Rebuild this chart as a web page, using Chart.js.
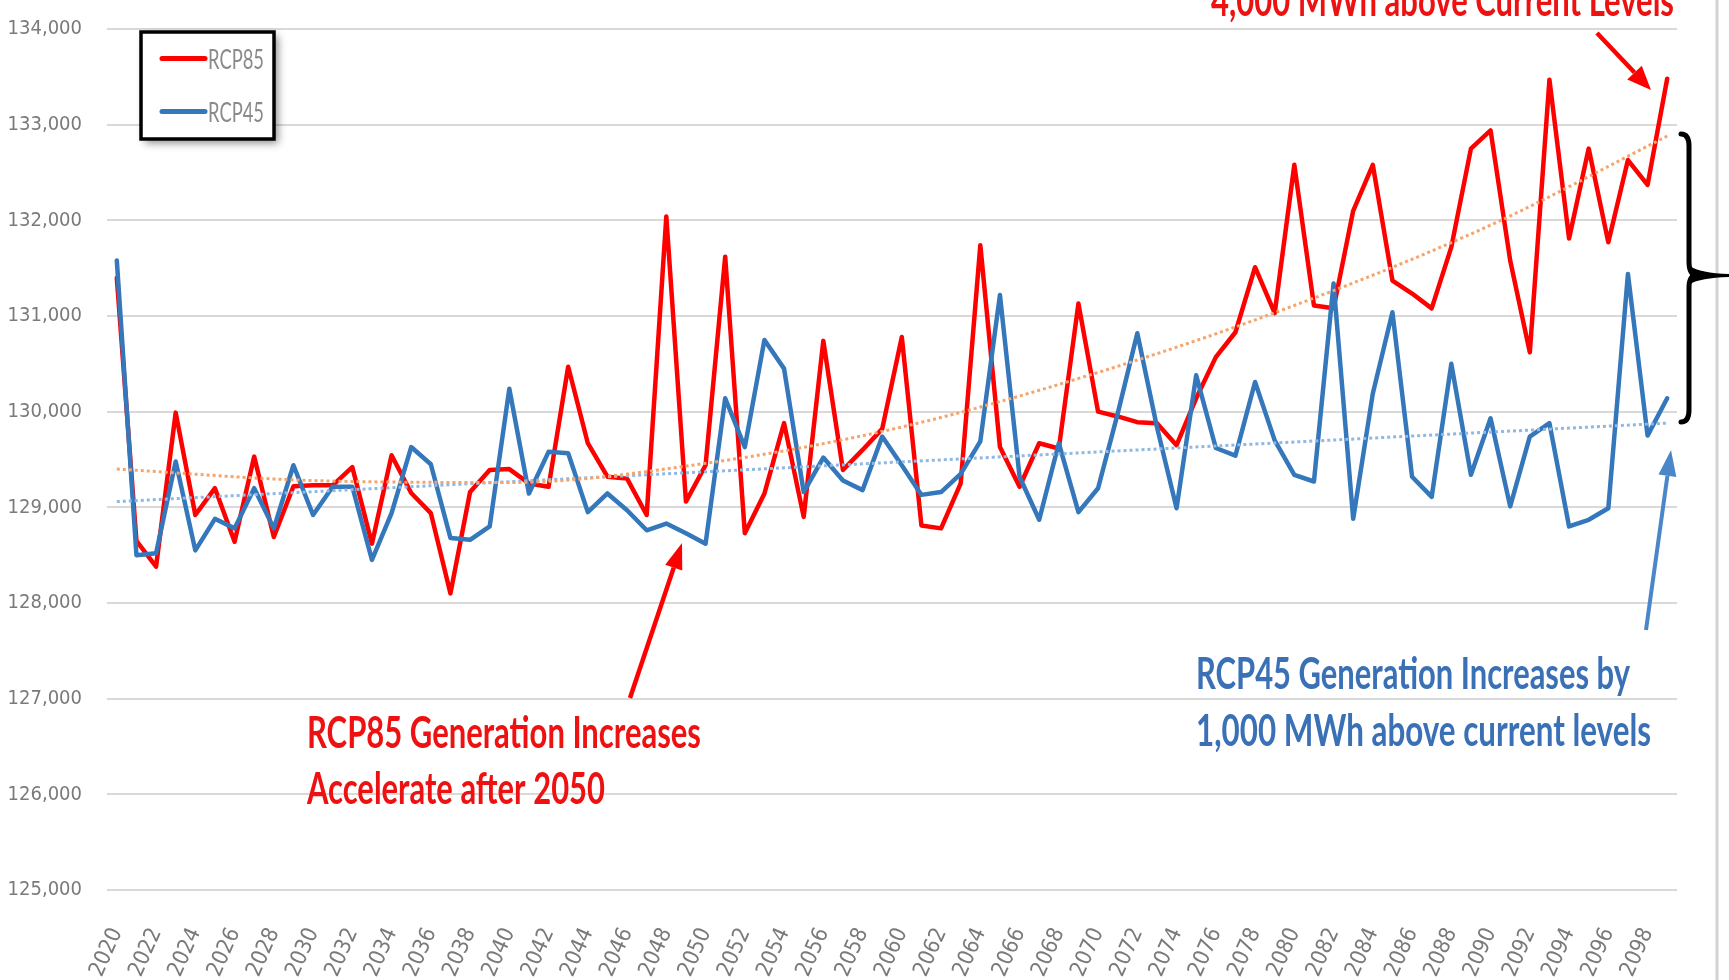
<!DOCTYPE html>
<html>
<head>
<meta charset="utf-8">
<script src="https://cdn.jsdelivr.net/npm/chart.js@4.4.1/dist/chart.umd.min.js"></script>
<style>
html,body{margin:0;padding:0;background:#fff;overflow:hidden}
#c{display:block}
</style>
</head>
<body>
<canvas id="c" width="1729" height="980"></canvas>
<script>
// ---------- DATA ----------
const years = [2020,2021,2022,2023,2024,2025,2026,2027,2028,2029,
  2030,2031,2032,2033,2034,2035,2036,2037,2038,2039,
  2040,2041,2042,2043,2044,2045,2046,2047,2048,2049,
  2050,2051,2052,2053,2054,2055,2056,2057,2058,2059,
  2060,2061,2062,2063,2064,2065,2066,2067,2068,2069,
  2070,2071,2072,2073,2074,2075,2076,2077,2078,2079,
  2080,2081,2082,2083,2084,2085,2086,2087,2088,2089,
  2090,2091,2092,2093,2094,2095,2096,2097,2098,2099];

const xTickLabels = ['2020','2022','2024','2026','2028','2030','2032','2034','2036','2038',
  '2040','2042','2044','2046','2048','2050','2052','2054','2056','2058',
  '2060','2062','2064','2066','2068','2070','2072','2074','2076','2078',
  '2080','2082','2084','2086','2088','2090','2092','2094','2096','2098'];

const yMin = 125000, yMax = 134000, yStep = 1000;

const rcp85 = [131400,128650,128380,129990,128920,129200,128640,129530,128690,129220,
  129230,129230,129420,128620,129545,129150,128940,128100,129160,129390,
  129400,129250,129215,130470,129670,129320,129300,128920,132040,129060,
  129440,131620,128730,129145,129880,128900,130740,129390,129600,129820,
  130780,128810,128780,129250,131740,129630,129215,129670,129615,131130,
  130000,129950,129890,129880,129650,130140,130570,130830,131510,131030,
  132580,131110,131080,132100,132580,131370,131235,131080,131720,132750,
  132940,131580,130620,133470,131810,132750,131770,132630,132370,133480];

const rcp45 = [131580,128500,128520,129480,128550,128880,128780,129200,128780,129440,
  128920,129215,129215,128450,128940,129630,129450,128680,128660,128800,
  130240,129145,129580,129565,128950,129145,128970,128760,128830,128730,
  128620,130140,129630,130750,130450,129160,129520,129280,129180,129740,
  129440,129130,129160,129350,129690,131220,129320,128870,129670,128950,
  129200,129980,130820,129840,128990,130380,129620,129540,130310,129700,
  129340,129270,131340,128880,130190,131040,129320,129110,130500,129340,
  129930,129010,129740,129880,128800,128870,128990,131440,129750,130140];

// trendline values at a few years
const rcp85TrendYears  = [2020,2030,2040,2050,2060,2070,2080,2090,2099];
const rcp85TrendValues = [129400,129280,129260,129460,129840,130410,131110,131950,132880];
const rcp45TrendYears  = [2020,2099];
const rcp45TrendValues = [129060,129880];

const seriesNames = ['RCP85','RCP45'];

// ---------- STYLE ----------
const RED = '#ff0000';
const BLUE = '#3477bb';
const NARROW = "'Liberation Sans Narrow','Arial Narrow','DejaVu Sans Condensed',sans-serif";
const ANNOT = "Lato,'Open Sans',sans-serif";

function sparse(ys, vs){
  return years.map(y => { const i = ys.indexOf(y); return i >= 0 ? vs[i] : null; });
}

function fitText(ctx, txt, x, baseline, size, width, color, weight, family){
  ctx.save();
  ctx.font = weight + ' ' + size + 'px ' + family;
  const w = ctx.measureText(txt).width;
  ctx.translate(x, baseline);
  ctx.scale(width / w, 1);
  ctx.fillStyle = color;
  ctx.textAlign = 'left';
  ctx.textBaseline = 'alphabetic';
  ctx.fillText(txt, 0, 0);
  ctx.restore();
}

function arrow(ctx, x1, y1, x2, y2, color, lw, hl, hw){
  const a = Math.atan2(y2 - y1, x2 - x1);
  const bx = x2 - hl * Math.cos(a), by = y2 - hl * Math.sin(a);
  ctx.save();
  ctx.strokeStyle = color; ctx.fillStyle = color; ctx.lineWidth = lw; ctx.lineCap = 'butt';
  ctx.beginPath(); ctx.moveTo(x1, y1); ctx.lineTo(bx, by); ctx.stroke();
  ctx.beginPath();
  ctx.moveTo(x2, y2);
  ctx.lineTo(bx + hw * Math.sin(a), by - hw * Math.cos(a));
  ctx.lineTo(bx - hw * Math.sin(a), by + hw * Math.cos(a));
  ctx.closePath(); ctx.fill();
  ctx.restore();
}

const bgPlugin = {
  id: 'bg',
  beforeDraw(chart){
    const c = chart.ctx;
    c.save(); c.fillStyle = '#ffffff'; c.fillRect(0, 0, chart.width, chart.height); c.restore();
  }
};

const decorPlugin = {
  id: 'decor',
  afterDraw(chart){
    const ctx = chart.ctx;
    // right border line
    ctx.save();
    ctx.strokeStyle = '#d2d2d2'; ctx.lineWidth = 3;
    ctx.beginPath(); ctx.moveTo(1717, 0); ctx.lineTo(1717, 980); ctx.stroke();
    ctx.restore();

    // legend box
    ctx.save();
    ctx.shadowColor = 'rgba(0,0,0,0.45)'; ctx.shadowBlur = 8; ctx.shadowOffsetX = 4; ctx.shadowOffsetY = 4;
    ctx.fillStyle = '#ffffff';
    ctx.fillRect(141, 32, 133, 107);
    ctx.restore();
    ctx.save();
    ctx.strokeStyle = '#000'; ctx.lineWidth = 3.5;
    ctx.strokeRect(141, 32, 133, 107);
    const ds = chart.data.datasets;
    const rows = [58.5, 111.5];
    for (let i = 0; i < 2; i++){
      ctx.strokeStyle = ds[i].borderColor; ctx.lineWidth = 5; ctx.lineCap = 'round';
      ctx.beginPath(); ctx.moveTo(162, rows[i]); ctx.lineTo(205, rows[i]); ctx.stroke();
      fitText(ctx, ds[i].label, 208, rows[i] + 10, 27, 56, '#8a8a8a', 400, ANNOT);
    }
    ctx.restore();

    // annotation texts
    fitText(ctx, '4,000 MWh above Current Levels', 1211, 16, 44, 463, '#ee1111', 700, ANNOT);
    fitText(ctx, 'RCP85 Generation Increases', 307, 748, 44, 394, '#ee1111', 700, ANNOT);
    fitText(ctx, 'Accelerate after 2050', 307, 804, 44, 298, '#ee1111', 700, ANNOT);
    fitText(ctx, 'RCP45 Generation Increases by', 1196, 689, 44, 434, '#3a70b6', 700, ANNOT);
    fitText(ctx, '1,000 MWh above current levels', 1196, 746, 44, 455, '#3a70b6', 700, ANNOT);

    // arrows
    arrow(ctx, 1597, 33, 1651, 90, RED, 4.5, 24, 10);
    arrow(ctx, 630, 698, 682, 543, RED, 4.5, 26, 9);
    arrow(ctx, 1646, 630, 1671, 450, '#4a86c8', 4, 26, 9);

    // brace
    ctx.save();
    ctx.strokeStyle = '#000'; ctx.lineWidth = 5; ctx.lineCap = 'round';
    ctx.beginPath();
    ctx.moveTo(1681, 134);
    ctx.quadraticCurveTo(1689, 134, 1689, 146);
    ctx.lineTo(1689, 262);
    ctx.quadraticCurveTo(1689, 274, 1696, 275);
    ctx.quadraticCurveTo(1689, 276, 1689, 288);
    ctx.lineTo(1689, 410);
    ctx.quadraticCurveTo(1689, 422, 1681, 422);
    ctx.stroke();
    ctx.fillStyle = '#000';
    ctx.beginPath();
    ctx.moveTo(1690, 266);
    ctx.quadraticCurveTo(1700, 273, 1729, 274);
    ctx.lineTo(1729, 277);
    ctx.quadraticCurveTo(1700, 278, 1690, 284);
    ctx.closePath(); ctx.fill();
    ctx.restore();
  }
};

const chart = new Chart(document.getElementById('c'), {
  type: 'line',
  data: {
    labels: years.map(String),
    datasets: [
      { label: seriesNames[0], data: rcp85, borderColor: RED, backgroundColor: RED, borderWidth: 4.5,
        pointRadius: 0, tension: 0, borderJoinStyle: 'round', borderCapStyle: 'round', order: 3 },
      { label: seriesNames[1], data: rcp45, borderColor: BLUE, backgroundColor: BLUE, borderWidth: 4.5,
        pointRadius: 0, tension: 0, borderJoinStyle: 'round', borderCapStyle: 'round', order: 2 },
      { label: 'RCP85 trend', data: sparse(rcp85TrendYears, rcp85TrendValues), borderColor: '#f5a56c',
        borderWidth: 3, borderDash: [3, 3], pointRadius: 0, spanGaps: true,
        cubicInterpolationMode: 'monotone', order: 1 },
      { label: 'RCP45 trend', data: sparse(rcp45TrendYears, rcp45TrendValues), borderColor: '#8fb8e2',
        borderWidth: 3, borderDash: [3, 3], pointRadius: 0, spanGaps: true, order: 1 }
    ]
  },
  options: {
    responsive: false,
    animation: false,
    devicePixelRatio: 1,
    layout: { padding: { top: 29, right: 52, bottom: 0, left: 0 } },
    plugins: { legend: { display: false }, tooltip: { enabled: false }, title: { display: false } },
    scales: {
      x: {
        type: 'category',
        offset: true,
        grid: { display: false, drawTicks: false },
        border: { display: false },
        afterFit(s){ s.height = 90; },
        ticks: {
          autoSkip: false, maxRotation: 66, minRotation: 66, padding: 34,
          color: '#7a7a7a', font: { family: NARROW, size: 22 },
          callback(v, i){ const l = String(years[i]); return xTickLabels.includes(l) ? l : ''; }
        }
      },
      y: {
        min: yMin, max: yMax,
        afterFit(s){ s.width = 107; },
        grid: { color: '#d9d9d9', lineWidth: 2, drawTicks: true, tickLength: 22, tickColor: 'rgba(0,0,0,0)' },
        border: { display: false },
        ticks: {
          stepSize: yStep, padding: 3, color: '#7a7a7a',
          font: { family: NARROW, size: 20 },
          callback(v){ return Number(v).toLocaleString('en-US'); }
        }
      }
    }
  },
  plugins: [bgPlugin, decorPlugin]
});
</script>
</body>
</html>
